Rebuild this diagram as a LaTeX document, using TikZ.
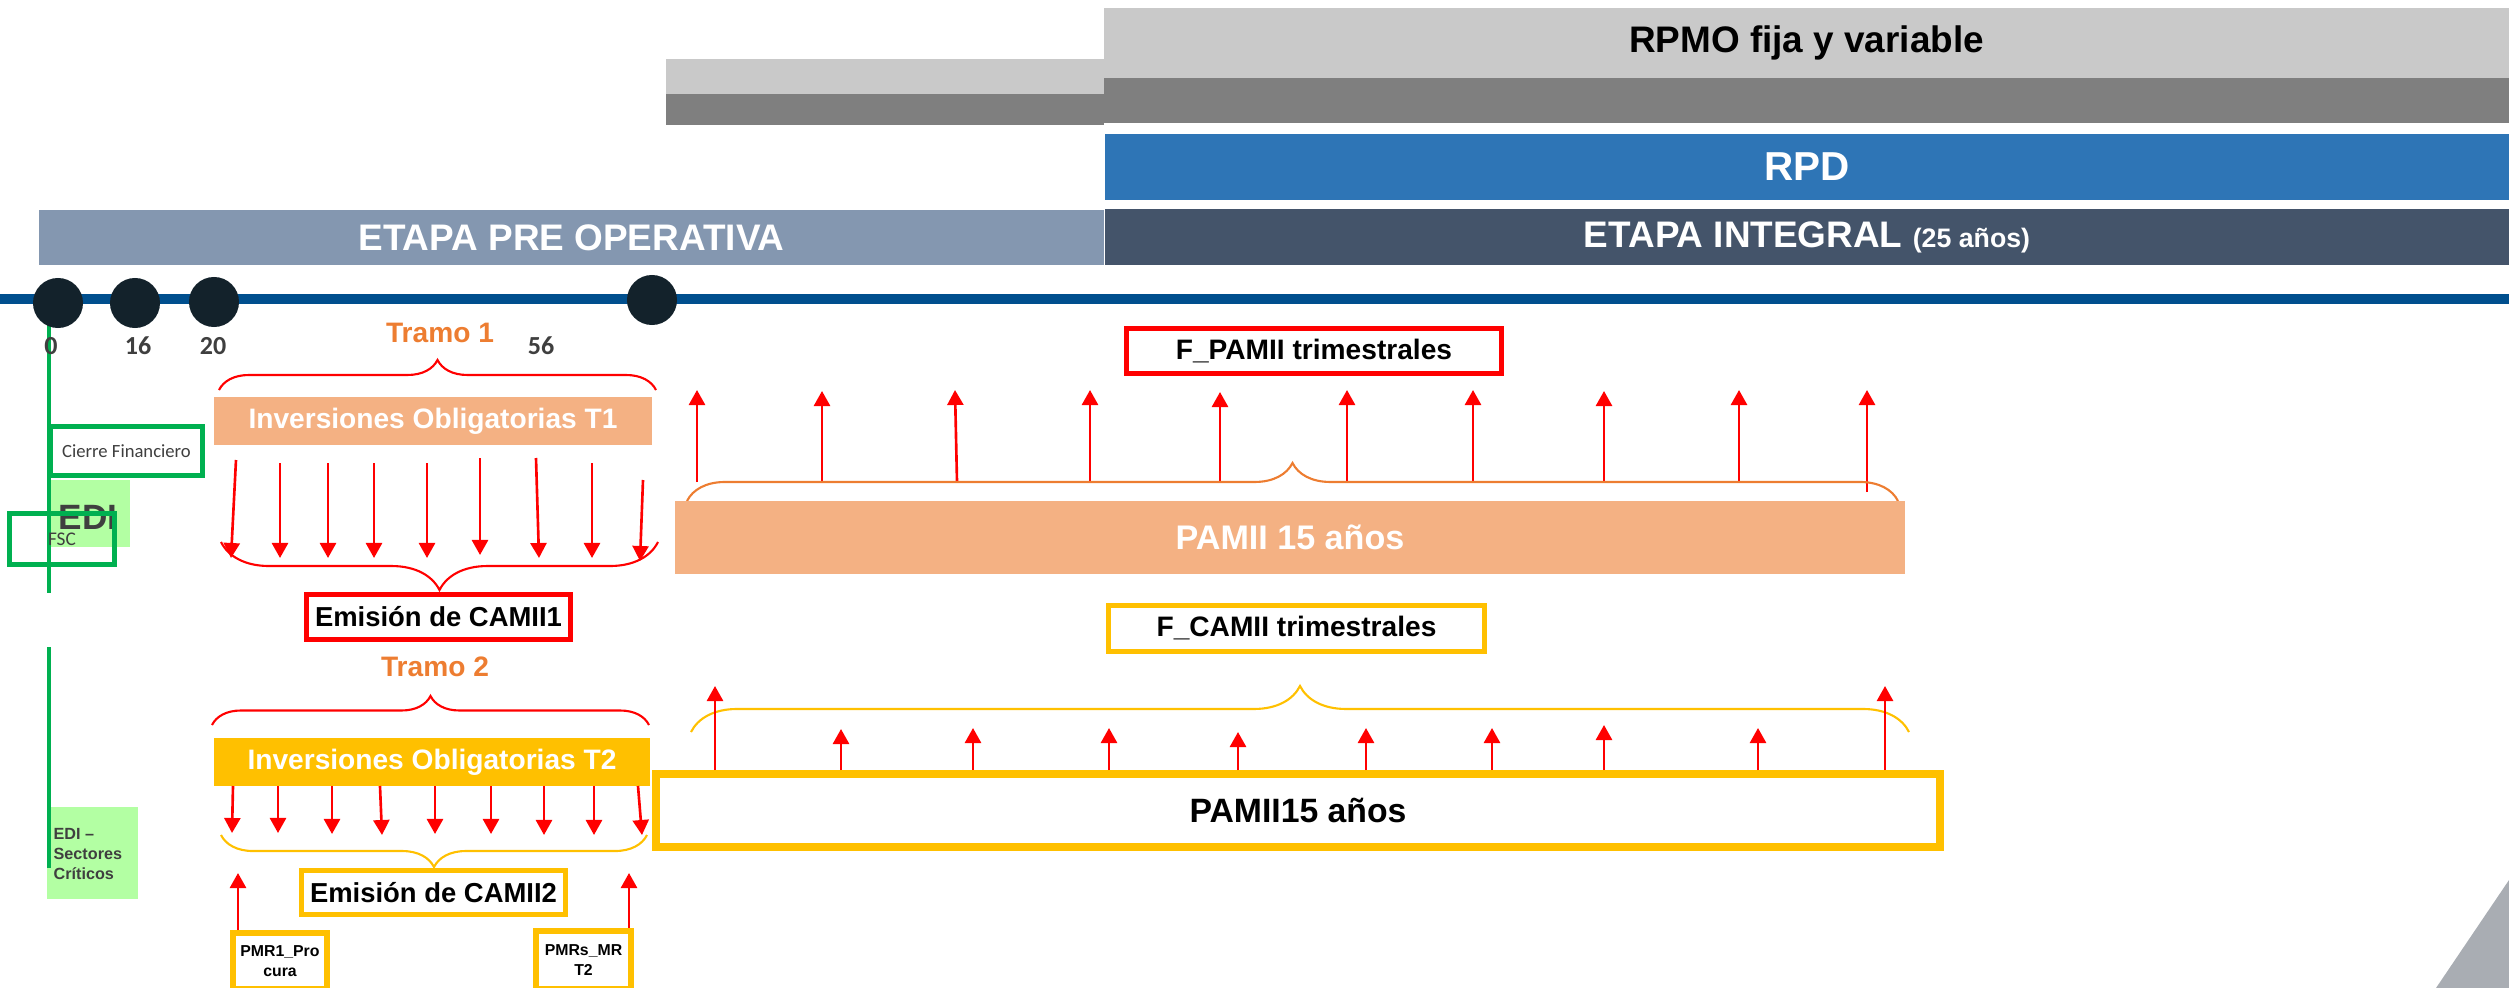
\documentclass[tikz,border=0pt]{standalone}
\usepackage{fontspec}
\setmainfont{Liberation Sans}
\newfontfamily\calibri{Carlito}
\usetikzlibrary{arrows.meta,decorations.pathreplacing}
\definecolor{lgris}{HTML}{C9C9C9}
\definecolor{ogris}{HTML}{7F7F7F}
\definecolor{azulrpd}{HTML}{2E75B6}
\definecolor{pizarra}{HTML}{44546A}
\definecolor{azulpre}{HTML}{8497B0}
\definecolor{linea}{HTML}{004F8E}
\definecolor{punto}{HTML}{13222B}
\definecolor{salmon}{HTML}{F4B183}
\definecolor{naranja}{HTML}{ED7D31}
\definecolor{oro}{HTML}{FFC000}
\definecolor{verde}{HTML}{00B050}
\definecolor{verdeclaro}{HTML}{B3FFA3}
\definecolor{texto}{HTML}{3F3F3F}
\definecolor{marca}{HTML}{A9ADB3}
\begin{document}
\begin{tikzpicture}[x=0.01cm, y=-0.01cm,
  barra/.style={inner sep=0pt, text=white, font=\bfseries\fontsize{10.5}{12}\selectfont},
  caja/.style={draw, fill=white, line width=1.4pt, inner sep=0pt, font=\bfseries\fontsize{7.8}{9}\selectfont},
  inv/.style={inner sep=0pt, text=white, font=\bfseries\fontsize{8}{9.6}\selectfont},
  hito/.style={circle, fill=punto, minimum size=0.5cm, inner sep=0pt},
  dia/.style={text=texto, font=\calibri\bfseries\fontsize{7.4}{8}\selectfont},
  tramo/.style={text=naranja, font=\bfseries\fontsize{8}{9.6}\selectfont},
  pmr/.style={draw=oro, fill=white, line width=1.7pt, inner sep=0pt, align=center, font=\bfseries\fontsize{4.5}{5.7}\selectfont},
  flecha/.style={red, line width=0.75pt, -{Triangle[length=0.15cm, width=0.16cm]}},
  llave/.style={decorate, decoration={brace, amplitude=#1}, line width=0.6pt}]
\useasboundingbox (0,0) rectangle (2509,988);
\fill[marca] (2509,880) -- (2436,988) -- (2509,988) -- cycle;

\fill[lgris] (666,59) rectangle (1104,94);
\fill[ogris] (666,94) rectangle (1104,125);
\node[barra, fill=lgris, text=black, minimum width=14.05cm, minimum height=0.70cm] (rpmo) at (1806.5,43) {RPMO fija y variable};
\node[barra, fill=ogris, minimum width=14.05cm, minimum height=0.45cm] (rpmob) at (1806.5,100.5) {};
\node[barra, fill=azulrpd, minimum width=14.04cm, minimum height=0.66cm, font=\bfseries\fontsize{11.5}{13}\selectfont] (rpd) at (1807,167) {RPD};
\node[barra, fill=pizarra, minimum width=14.04cm, minimum height=0.56cm] (integral) at (1807,237) {ETAPA INTEGRAL {\fontsize{7.6}{9}\selectfont(25 años)}};
\node[barra, fill=azulpre, minimum width=10.65cm, minimum height=0.55cm] (preop) at (571.5,237.5) {ETAPA PRE OPERATIVA};

\fill[verdeclaro] (51,480) rectangle (130,547);
\fill[verdeclaro] (47,807) rectangle (138,899);
\draw[verde, line width=1.1pt] (49,303) -- (49,593);
\draw[verde, line width=1.1pt] (49,647) -- (49,868);

\draw[linea, line width=2.85pt] (0,299) -- (2509,299);
\node[hito] (d0) at (58,303) {};
\node[hito] (d16) at (135,303) {};
\node[hito] (d20) at (214,302) {};
\node[hito] (d56) at (652,300) {};
\node[dia] (n0) at (51,346) {0};
\node[dia] (n16) at (138,346) {16};
\node[dia] (n20) at (213,346) {20};
\node[dia] (n56) at (541,346) {56};

\node[caja, draw=verde, minimum width=1.52cm, minimum height=0.49cm, font=\calibri\fontsize{5.3}{6}\selectfont, text=texto] (cierre) at (126.5,451) {Cierre Financiero};
\node[text=texto, font=\bfseries\fontsize{10}{12}\selectfont, inner sep=0pt] (edi) at (88,517) {EDI};
\node[draw=verde, line width=1.4pt, minimum width=1.05cm, minimum height=0.51cm, inner sep=0pt, text=texto, font=\calibri\fontsize{5.5}{6}\selectfont] (fsc) at (62,539) {FSC};
\node[anchor=north west, inner sep=0pt, align=left, text=texto, font=\bfseries\fontsize{4.6}{5.7}\selectfont] (edisc) at (53,828) {EDI –\\Sectores\\Críticos};

\node[tramo] (tramo1) at (440,333) {Tramo 1};
\draw[llave=0.3cm, red] (219,390) -- (656,390);
\node[inv, fill=salmon, minimum width=4.38cm, minimum height=0.48cm] (inv1) at (433,421) {Inversiones Obligatorias T1};
\foreach \n/\xa/\ya/\xb/\yb in {1/236/460/231/558, 2/280/463/280/558, 3/328/463/328/558, 4/374/463/374/558, 5/427/463/427/558, 6/480/458/480/555, 7/536/458/539/558, 8/592/463/592/558, 9/643/480/640/561}
{
  \coordinate (t1a\n) at (\xa,\ya);
  \coordinate (t1b\n) at (\xb,\yb);
  \draw[flecha] (t1a\n) -- (t1b\n);
}
\draw[llave=0.48cm, red] (658,542) -- (221,542);
\node[caja, draw=red, minimum width=2.64cm, minimum height=0.45cm] (camii1) at (438.5,617) {Emisión de CAMII1};

\node[tramo] (tramo2) at (435,667) {Tramo 2};
\draw[llave=0.29cm, red] (212,725) -- (649,725);
\node[inv, fill=oro, minimum width=4.36cm, minimum height=0.48cm] (inv2) at (432,762) {Inversiones Obligatorias T2};
\foreach \n/\xa/\xb/\yb in {1/233/232/833, 2/278/278/833, 3/332/332/834, 4/380/382/835, 5/435/435/834, 6/491/491/834, 7/544/544/835, 8/594/594/835, 9/638/642/835}
{
  \coordinate (t2a\n) at (\xa,786);
  \coordinate (t2b\n) at (\xb,\yb);
  \draw[flecha] (t2a\n) -- (t2b\n);
}
\draw[llave=0.32cm, oro] (647,835) -- (221,835);
\node[caja, draw=oro, minimum width=2.64cm, minimum height=0.44cm] (camii2) at (433.5,892.5) {Emisión de CAMII2};

\node[pmr, minimum width=0.94cm, minimum height=0.56cm] (pmr1) at (280,961) {PMR1\_Pro\\cura};
\node[pmr, minimum width=0.95cm, minimum height=0.58cm] (pmrs) at (583.5,960) {PMRs\_MR\\T2};
\coordinate (p1) at (238,873);
\coordinate (p2) at (629,873);
\draw[flecha] (pmr1.north -| p1) -- (p1);
\draw[flecha] (pmrs.north -| p2) -- (p2);

\node[caja, draw=red, minimum width=3.75cm, minimum height=0.45cm, font=\bfseries\fontsize{8}{9.6}\selectfont] (fpamii) at (1314,351) {F\_PAMII trimestrales};
\foreach \n/\xa/\ya/\xb/\yb in {1/697/482/697/390, 2/822/482/822/391, 3/957/482/955/390, 4/1090/482/1090/390, 5/1220/482/1220/392, 6/1347/482/1347/390, 7/1473/482/1473/390, 8/1604/482/1604/391, 9/1739/482/1739/390, 10/1867/492/1867/390}
{
  \coordinate (pa\n) at (\xa,\ya);
  \coordinate (pb\n) at (\xb,\yb);
  \draw[flecha] (pa\n) -- (pb\n);
}
\draw[llave=0.38cm, naranja] (687,501) -- (1898,501);
\node[inv, fill=salmon, minimum width=12.3cm, minimum height=0.73cm, font=\bfseries\fontsize{9.7}{11}\selectfont] (pamii) at (1290,537.5) {PAMII 15 años};

\node[caja, draw=oro, minimum width=3.76cm, minimum height=0.46cm, font=\bfseries\fontsize{8}{9.6}\selectfont] (fcamii) at (1296.5,628.5) {F\_CAMII trimestrales};
\draw[llave=0.46cm, oro] (691,732) -- (1909,732);
\node[caja, draw=oro, line width=2.3pt, minimum width=12.84cm, minimum height=0.73cm, font=\bfseries\fontsize{9.6}{11}\selectfont] (pamiib) at (1298,810.5) {PAMII15 años};
\foreach \n/\x/\yb in {1/715/686, 2/841/729, 3/973/728, 4/1109/728, 5/1238/732, 6/1366/728, 7/1492/728, 8/1604/725, 9/1758/728, 10/1885/686}
{
  \coordinate (ca\n) at (\x,770);
  \coordinate (cb\n) at (\x,\yb);
  \draw[flecha] (ca\n) -- (cb\n);
}
\end{tikzpicture}
\end{document}
